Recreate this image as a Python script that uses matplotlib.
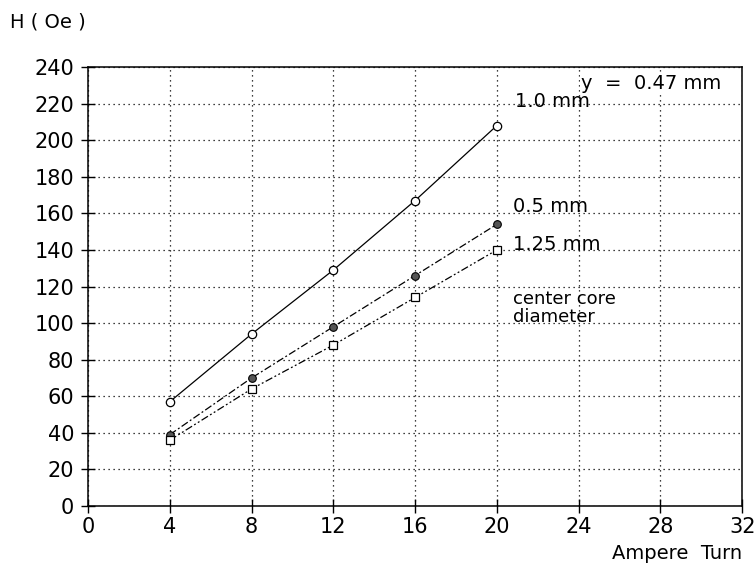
import matplotlib
matplotlib.use('Agg')
import matplotlib.pyplot as plt

# field strength vs ampere-turns for three center core diameters
AMP_TURN   = [4, 8, 12, 16, 20]
H_1_0_MM   = [57, 94, 129, 167, 208]
H_0_5_MM   = [39, 70, 98, 126, 154]
H_1_25_MM  = [36, 64, 88, 114, 140]
X_TICKS = list(range(0, 33, 4))
Y_TICKS = list(range(0, 241, 20))

plt.rcParams['font.family'] = ['DejaVu Sans Condensed', 'Liberation Sans Narrow', 'DejaVu Sans']
FS = 15

fig = plt.figure(figsize=(7.55, 5.67), dpi=100)
ax = fig.add_axes([0.1166, 0.1076, 0.8664, 0.7742])

ax.plot(AMP_TURN, H_1_0_MM, '-', color='black', lw=0.9,
        marker='o', ms=6, mfc='white', mec='black', mew=0.9)
ax.plot(AMP_TURN, H_0_5_MM, color='black', lw=0.9, linestyle=(0, (6, 2, 1.5, 2)),
        marker='o', ms=5.5, mfc='#555555', mec='black', mew=0.8)
ax.plot(AMP_TURN, H_1_25_MM, color='black', lw=0.9, linestyle=(0, (6, 2, 1.5, 2, 1.5, 2)),
        marker='s', ms=6, mfc='white', mec='black', mew=0.9)

ax.set_xlim(0, 32)
ax.set_ylim(0, 240)
ax.set_xticks(X_TICKS)
ax.set_yticks(Y_TICKS)
ax.tick_params(direction='inout', length=10, width=1, labelsize=FS, colors='black')
ax.tick_params(axis='x', pad=3)
ax.tick_params(axis='y', pad=5)
ax.grid(True, linestyle=(0, (1, 3)), color='black', lw=0.9)
for s in ax.spines.values():
    s.set_linewidth(1.1)

ax.text(20.9, 221, '1.0 mm', fontsize=FS - 1, va='center')
ax.text(20.8, 164, '0.5 mm', fontsize=FS - 1, va='center')
ax.text(20.8, 143, '1.25 mm', fontsize=FS - 1, va='center')
ax.text(20.8, 108, 'center core\ndiameter', fontsize=FS - 2, va='center', linespacing=1.0)
ax.text(31.0, 231, 'y  =  0.47 mm', fontsize=FS - 1, va='center', ha='right',
        bbox=dict(facecolor='white', edgecolor='none', pad=1))

fig.text(0.013, 0.962, 'H ( Oe )', fontsize=FS - 1, va='center')
fig.text(0.983, 0.024, 'Ampere  Turn', fontsize=FS - 1, ha='right', va='center')

fig.savefig('out.png', dpi=100)
